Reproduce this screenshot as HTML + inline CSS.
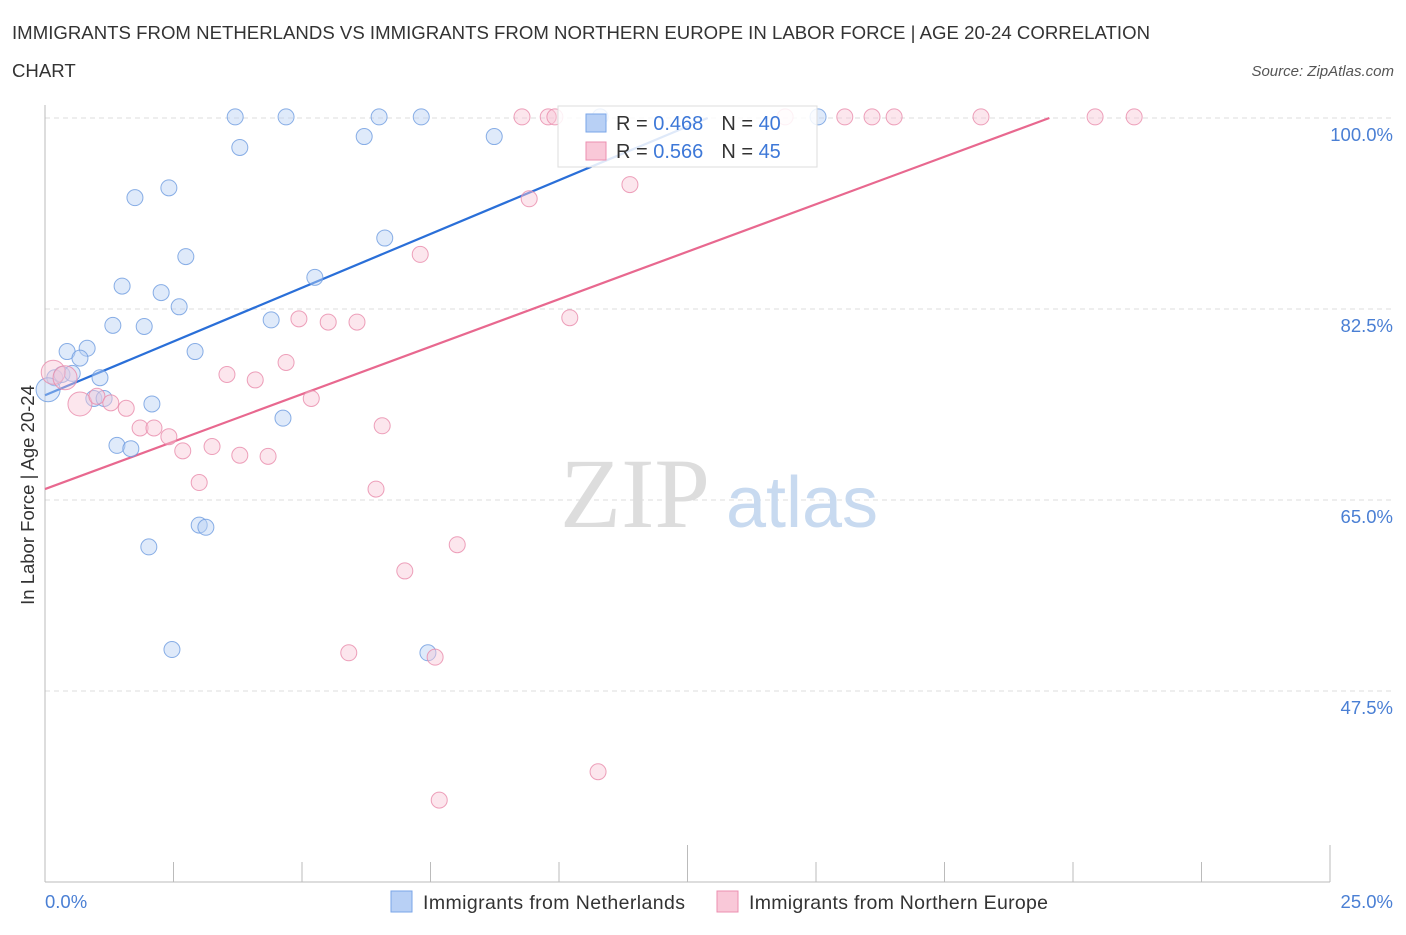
<!DOCTYPE html>
<html><head><meta charset="utf-8"><style>
body{margin:0;background:#fff;font-family:"Liberation Sans",sans-serif;}
</style></head><body>
<svg id="chart" width="1406" height="930" viewBox="0 0 1406 930" font-family="Liberation Sans, sans-serif">
<text x="12" y="39" font-size="18.6" fill="#333" textLength="1138">IMMIGRANTS FROM NETHERLANDS VS IMMIGRANTS FROM NORTHERN EUROPE IN LABOR FORCE | AGE 20-24 CORRELATION</text>
<text x="12" y="77" font-size="18.6" fill="#333">CHART</text>
<text x="1394" y="76" font-size="15" fill="#555" font-style="italic" text-anchor="end">Source: ZipAtlas.com</text>
<g id="grid"></g>
<g id="watermark">
<text x="635" y="527" font-size="100" fill="#ddd" style="font-family:'Liberation Serif',serif" text-anchor="middle">ZIP</text>
<text x="802" y="527" font-size="72" fill="#c8daf0" text-anchor="middle">atlas</text>
</g>
<g id="lines"></g>
<g id="points"></g>
<text transform="translate(34,495) rotate(-90)" font-size="18.5" fill="#333" text-anchor="middle">In Labor Force | Age 20-24</text>
<text x="45" y="908" font-size="18.5" fill="#4a7fd4">0.0%</text>
<text x="1393" y="908" font-size="18.5" fill="#4a7fd4" text-anchor="end">25.0%</text>
<g>
<rect x="558" y="106" width="259" height="61" fill="#fff" fill-opacity="0.85" stroke="#ddd"/>
<rect x="586" y="114" width="20" height="18" fill="#b8d0f5" stroke="#7aa6e8"/>
<rect x="586" y="142" width="20" height="18" fill="#f9c8d8" stroke="#ec8fb0"/>
<text x="616" y="130" font-size="20" fill="#333">R = <tspan fill="#3d78d8">0.468</tspan><tspan dx="18">N = </tspan><tspan fill="#3d78d8">40</tspan></text>
<text x="616" y="158" font-size="20" fill="#333">R = <tspan fill="#3d78d8">0.566</tspan><tspan dx="18">N = </tspan><tspan fill="#3d78d8">45</tspan></text>
</g>
<g>
<rect x="391" y="891" width="21" height="21" fill="#b8d0f5" stroke="#7aa6e8"/>
<text x="423" y="909" font-size="19.5" fill="#333" textLength="262">Immigrants from Netherlands</text>
<rect x="717" y="891" width="21" height="21" fill="#f9c8d8" stroke="#ec8fb0"/>
<text x="749" y="909" font-size="19.5" fill="#333" textLength="299">Immigrants from Northern Europe</text>
</g>
</svg>
<script>
const yTicks=[100,82.5,65,47.5];
const blueX=[3.70,4.69,6.50,7.32,3.79,6.21,8.74,10.80,15.04,1.75,2.41,2.74,6.61,5.25,1.50,2.26,2.61,1.32,1.93,4.40,0.43,0.82,0.68,2.92,0.19,0.33,0.53,1.07,0.06,0.95,1.15,2.08,4.63,1.40,1.67,3.00,3.13,2.02,2.47,7.45];
const blueY=[100.1,100.1,100.1,100.1,97.3,98.3,98.3,100.1,100.1,92.7,93.6,87.3,89.0,85.4,84.6,84.0,82.7,81.0,80.9,81.5,78.6,78.9,78.0,78.6,76.2,76.5,76.6,76.2,75.1,74.3,74.3,73.8,72.5,70.0,69.7,62.7,62.5,60.7,51.3,51.0];
const pinkX=[9.28,9.79,9.92,14.40,15.56,16.09,16.52,18.21,20.43,21.19,11.38,9.42,7.30,4.94,5.51,6.07,10.21,4.69,3.54,4.09,0.16,0.39,0.68,1.01,1.28,1.58,1.85,2.12,2.41,2.68,3.25,3.79,4.34,5.18,6.56,3.00,6.44,8.02,7.00,5.91,7.59,10.76,7.67];
const pinkY=[100.1,100.1,100.1,100.1,100.1,100.1,100.1,100.1,100.1,100.1,93.9,92.6,87.5,81.6,81.3,81.3,81.7,77.6,76.5,76.0,76.7,76.2,73.8,74.5,73.9,73.4,71.6,71.6,70.8,69.5,69.9,69.1,69.0,74.3,71.8,66.6,66.0,60.9,58.5,51.0,50.6,40.1,37.5];
const blueTrend=[74.6,1.97];
const pinkTrend=[66.0,1.74];
const NS='http://www.w3.org/2000/svg';
const xs=v=>45+v/25*1285;
const ys=v=>118+(100-v)*10.914;
function mk(t,a,p){const e=document.createElementNS(NS,t);for(const k in a)e.setAttribute(k,a[k]);p.appendChild(e);return e;}
const grid=document.getElementById('grid');
yTicks.forEach((t,i)=>{
 const l=mk('line',{x1:45,x2:1394,y1:ys(t),y2:ys(t),stroke:'#ddd','stroke-dasharray':'5,4'},grid);
 
 
 const tx=mk('text',{x:1393,y:ys(t)+23,'font-size':18.5,fill:'#4a7fd4','text-anchor':'end'},grid);
 tx.textContent=t.toFixed(1)+'%';
 
 
});
const ax=mk('line',{x1:45,x2:1330,y1:882,y2:882,stroke:'#bbb'},grid);


const ay=mk('line',{x1:45,x2:45,y1:105,y2:882,stroke:'#bbb'},grid);


for(let i=0;i<=10;i++){const x=45+i*128.5;const tk=mk('line',{x1:x,x2:x,y1:i%5==0?845:862,y2:882,stroke:'#bbb'},grid);
 
 }
const lines=document.getElementById('lines');
[[blueTrend,'#2a6fd8','trend-line-netherlands'],[pinkTrend,'#e8688f','trend-line-northern-europe']].forEach(([t,c,n])=>{
 const xe=(100-t[0])/t[1];
 const l=mk('line',{x1:xs(0),y1:ys(t[0]),x2:xs(xe),y2:ys(100),stroke:c,'stroke-width':2.2},lines);
 
 
});
const pts=document.getElementById('points');
function draw(X,Y,fill,stroke,name,big){X.forEach((x,i)=>{
 const r=(x<0.8&&big.includes(i))?12:8;
 const c=mk('circle',{cx:xs(x),cy:ys(Y[i]),r:r,fill:fill,'fill-opacity':0.45,stroke:stroke,'stroke-width':1,'stroke-opacity':0.8},pts);
 
 
});}
draw(blueX,blueY,'#b8d0f5','#6d9be0','point-netherlands',[28]);
draw(pinkX,pinkY,'#f9c8d8','#e889aa','point-northern-europe',[20,21,22]);
</script>
</body></html>
